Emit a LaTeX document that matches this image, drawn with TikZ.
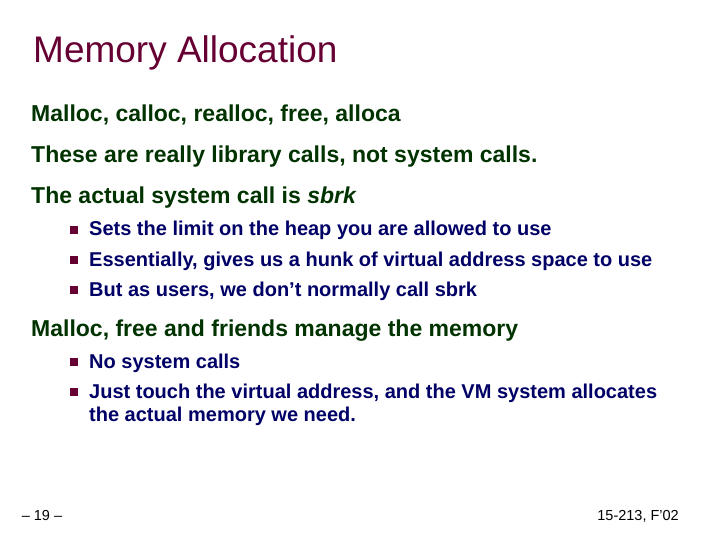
\documentclass[tikz,border=0pt]{standalone}
\usepackage{fontspec}
\setmainfont{Liberation Sans}
\definecolor{maroon}{HTML}{660033}
\definecolor{dgreen}{HTML}{003300}
\definecolor{navy}{HTML}{000066}
\definecolor{shade}{HTML}{C8D8C8}
\tikzset{
 ttl/.style={anchor=base west,inner sep=0,text=maroon,font=\fontsize{37}{44}\selectfont},
 lvl/.style={anchor=base west,inner sep=0,text=dgreen,font=\bfseries\fontsize{23}{28}\selectfont},
 sub/.style={anchor=base west,inner sep=0,text=navy,font=\bfseries\fontsize{20}{24}\selectfont},
 bul/.style={fill=maroon,minimum size=7.5pt,inner sep=0},
 foot/.style={inner sep=0,anchor=base,font=\fontsize{14.5}{17}\selectfont}
}
\begin{document}
\begin{tikzpicture}[x=1pt,y=-1pt]
\useasboundingbox (0,0) rectangle (720,540);
\node[ttl] (t) at (33,63) {Memory Allocation};
\node[lvl] (a) at (31,122) {Malloc, calloc, realloc, free, alloca};
\node[lvl] (b) at (31,163) {These are really library calls, not system calls.};
\node[lvl] (c) at (31,204) {The actual system call is \textit{sbrk}};
\node[sub] (c1) at (89,236) {Sets the limit on the heap you are allowed to use};
\node[sub] (c2) at (89,266) {Essentially, gives us a hunk of virtual address space to use};
\node[sub] (c3) at (89,296) {But as users, we don’t normally call sbrk};
\node[lvl] (d) at (31,336) {Malloc, free and friends manage the memory};
\node[sub] (d1) at (89,368) {No system calls};
\node[sub] (d2) at (89,398) {Just touch the virtual address, and the VM system allocates};
\node[sub] (d3) at (89,421) {the actual memory we need.};
\node[bul] (b1) at (74,230) {};
\node[bul] (b2) at (74,260) {};
\node[bul] (b3) at (74,290) {};
\node[bul] (b4) at (74,362) {};
\node[bul] (b5) at (74,392) {};
\node[foot] (f1) at (42,520) {– 19 –};
\node[foot,anchor=base east] (f2) at (679,520) {15-213, F’02};
\end{tikzpicture}
\end{document}
